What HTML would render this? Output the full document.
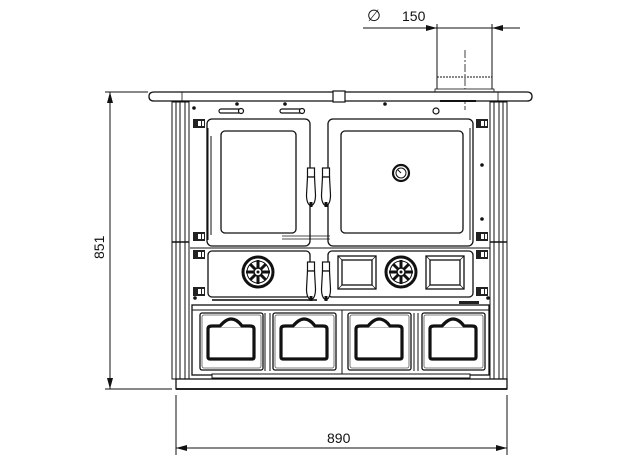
<!DOCTYPE html>
<html><head><meta charset="utf-8"><style>
html,body{margin:0;padding:0;background:#fff;}
svg{display:block;}
text{font-family:"Liberation Sans",sans-serif;fill:#111;}
</style></head><body>
<svg width="624" height="460" viewBox="0 0 624 460" xmlns="http://www.w3.org/2000/svg">
<defs>
<g id="knob">
  <circle r="15" fill="#fff" stroke="#111" stroke-width="3"/>
  <circle r="11" fill="none" stroke="#111" stroke-width="1"/>
  <g stroke="#111" stroke-width="3">
    <line x1="0" y1="-4" x2="0" y2="-12"/><line x1="0" y1="4" x2="0" y2="12"/>
    <line x1="-4" y1="0" x2="-12" y2="0"/><line x1="4" y1="0" x2="12" y2="0"/>
    <line x1="-3" y1="-3" x2="-8" y2="-8"/><line x1="3" y1="3" x2="8" y2="8"/>
    <line x1="3" y1="-3" x2="8" y2="-8"/><line x1="-3" y1="3" x2="-8" y2="8"/>
  </g>
  <circle r="4" fill="#fff" stroke="#111" stroke-width="1.5"/>
  <circle r="1.5" fill="#111"/>
</g>
<g id="hinge">
  <rect x="0" y="0" width="12" height="9" fill="#222"/>
  <rect x="5" y="2" width="3" height="5" fill="#fff"/>
  <rect x="9" y="2" width="2" height="5" fill="#fff"/>
</g>
<g id="drawer">
  <rect x="0" y="0" width="63" height="57" rx="2" fill="#fff" stroke="#111" stroke-width="1.3"/>
  <rect x="2" y="2" width="59" height="53" rx="2" fill="none" stroke="#555" stroke-width="0.8"/>
  <path d="M8,16 Q8,13 12,13 L20,13 Q26,6 31,6 Q37,6 42,13 L50,13 Q54,13 54,16 L54,44 Q54,46 52,46 L10,46 Q8,46 8,44 Z" fill="#fff" stroke="#111" stroke-width="3.2"/>
  <line x1="14" y1="14.5" x2="48" y2="14.5" stroke="#777" stroke-width="0.6"/>
</g>
<g id="handle">
  <rect x="-3.5" y="0" width="7" height="9" fill="#fff" stroke="#111" stroke-width="1.2"/>
  <path d="M-3.5,9 L-4.5,27 Q-4.5,36 0,38 Q4.5,36 4.5,27 L3.5,9 Z" fill="#fff" stroke="#111" stroke-width="1.2"/>
  <rect x="-1.5" y="34" width="3" height="5" fill="#111"/>
</g>
</defs>

<!-- dimension: diameter 150 -->
<text x="367" y="21" font-size="16">∅</text>
<text x="402" y="21" font-size="14">150</text>
<line x1="363" y1="28" x2="520" y2="28" stroke="#111" stroke-width="1"/>
<line x1="437" y1="24" x2="437" y2="92" stroke="#111" stroke-width="1"/>
<line x1="492" y1="24" x2="492" y2="92" stroke="#111" stroke-width="1"/>
<path d="M437,28 L426,25 L426,31 Z" fill="#111"/>
<path d="M492,28 L503,25 L503,31 Z" fill="#111"/>
<line x1="465" y1="50" x2="465" y2="110" stroke="#111" stroke-width="0.8" stroke-dasharray="8,2,2,2"/>
<line x1="437" y1="77" x2="492" y2="77" stroke="#111" stroke-width="1" stroke-dasharray="2,1"/>
<rect x="435" y="89" width="59" height="4" fill="#fff" stroke="#111" stroke-width="0.8"/>

<!-- height dimension -->
<line x1="105" y1="92" x2="148" y2="92" stroke="#111" stroke-width="1"/>
<line x1="105" y1="389" x2="172" y2="389" stroke="#111" stroke-width="1"/>
<line x1="110" y1="92" x2="110" y2="389" stroke="#111" stroke-width="1"/>
<path d="M110,92 L107,103 L113,103 Z" fill="#111"/>
<path d="M110,389 L107,378 L113,378 Z" fill="#111"/>
<text x="0" y="0" font-size="14" transform="translate(104,259) rotate(-90)">851</text>

<!-- width dimension -->
<line x1="176" y1="395" x2="176" y2="455" stroke="#111" stroke-width="1"/>
<line x1="507" y1="395" x2="507" y2="455" stroke="#111" stroke-width="1"/>
<line x1="176" y1="448" x2="507" y2="448" stroke="#111" stroke-width="1"/>
<path d="M176,448 L187,445 L187,451 Z" fill="#111"/>
<path d="M507,448 L496,445 L496,451 Z" fill="#111"/>
<text x="327" y="443" font-size="14">890</text>

<!-- top plate -->
<path d="M154,92 L527,92 Q532,92 532,96.5 Q532,101 527,101 L154,101 Q149,101 149,96.5 Q149,92 154,92 Z" fill="#fff" stroke="#111" stroke-width="1.3"/>
<line x1="182" y1="92" x2="182" y2="101" stroke="#111" stroke-width="0.8"/>
<line x1="498" y1="92" x2="498" y2="101" stroke="#111" stroke-width="0.8"/>
<rect x="333" y="91" width="12" height="11" fill="#fff" stroke="#111" stroke-width="1.2"/>
<rect x="440" y="100" width="36" height="2" fill="#111"/>

<!-- side columns -->
<g stroke="#111" stroke-width="1" fill="none">
  <rect x="172" y="102" width="17" height="277"/>
  <line x1="176" y1="102" x2="176" y2="379"/>
  <line x1="180" y1="102" x2="180" y2="379"/>
  <line x1="185" y1="102" x2="185" y2="379"/>
  <rect x="490" y="102" width="17" height="277"/>
  <line x1="494" y1="102" x2="494" y2="379"/>
  <line x1="499" y1="102" x2="499" y2="379"/>
  <line x1="503" y1="102" x2="503" y2="379"/>
</g>
<line x1="172" y1="242" x2="189" y2="242" stroke="#111" stroke-width="1.5"/>
<line x1="490" y1="242" x2="507" y2="242" stroke="#111" stroke-width="1.5"/>

<!-- top dots & sliders -->
<g fill="#111">
  <circle cx="194" cy="108" r="1.8"/><circle cx="237" cy="104" r="1.8"/><circle cx="285" cy="104" r="1.8"/>
  <circle cx="385" cy="104" r="1.8"/><circle cx="195" cy="298" r="1.8"/><circle cx="488" cy="298" r="1.8"/>
  <circle cx="482" cy="165" r="1.8"/><circle cx="482" cy="219" r="1.8"/>
</g>
<g stroke="#111" stroke-width="1.2" fill="#fff">
  <rect x="219" y="109" width="22" height="4" rx="2"/><circle cx="241" cy="111" r="2.5"/>
  <rect x="280" y="109" width="22" height="4" rx="2"/><circle cx="302" cy="111" r="2.5"/>
  <circle cx="436" cy="111" r="3"/>
</g>

<!-- upper doors -->
<g stroke="#111" stroke-width="1.3" fill="#fff">
  <rect x="207" y="119" width="103" height="127" rx="5"/>
  <rect x="221" y="131" width="75" height="102" rx="4"/>
  <rect x="328" y="119" width="145" height="127" rx="5"/>
  <rect x="341" y="131" width="122" height="102" rx="4"/>
</g>
<line x1="208" y1="128" x2="208" y2="240" stroke="#111" stroke-width="1"/>
<line x1="211" y1="136" x2="211" y2="235" stroke="#111" stroke-width="1"/>
<line x1="470" y1="128" x2="470" y2="240" stroke="#111" stroke-width="1"/>
<line x1="473" y1="128" x2="473" y2="240" stroke="#111" stroke-width="1"/>
<line x1="282" y1="236" x2="330" y2="236" stroke="#111" stroke-width="0.8"/>
<line x1="282" y1="239" x2="330" y2="239" stroke="#111" stroke-width="0.8"/>
<line x1="190" y1="248" x2="490" y2="248" stroke="#111" stroke-width="1"/>

<!-- thermometer -->
<circle cx="401" cy="173" r="8" fill="#fff" stroke="#111" stroke-width="2.2"/>
<circle cx="401" cy="173" r="5" fill="#fff" stroke="#111" stroke-width="1"/>
<line x1="401" y1="173" x2="398" y2="170" stroke="#111" stroke-width="1"/>

<!-- hinges -->
<use href="#hinge" x="193" y="119"/><use href="#hinge" x="193" y="232"/>
<use href="#hinge" x="193" y="250"/><use href="#hinge" x="193" y="287"/>
<use href="#hinge" x="476" y="119"/><use href="#hinge" x="476" y="232"/>
<use href="#hinge" x="476" y="250"/><use href="#hinge" x="476" y="287"/>

<!-- lower doors -->
<g stroke="#111" stroke-width="1.3" fill="#fff">
  <rect x="208" y="251" width="102" height="46" rx="4"/>
  <rect x="328" y="251" width="145" height="46" rx="4"/>
  <rect x="338" y="256" width="38" height="33"/>
  <rect x="342" y="260" width="30" height="25"/>
  <rect x="426" y="256" width="38" height="33"/>
  <rect x="430" y="260" width="30" height="25"/>
</g>
<g stroke="#111" stroke-width="0.7">
  <line x1="338" y1="256" x2="342" y2="260"/><line x1="376" y1="256" x2="372" y2="260"/>
  <line x1="338" y1="289" x2="342" y2="285"/><line x1="376" y1="289" x2="372" y2="285"/>
  <line x1="426" y1="256" x2="430" y2="260"/><line x1="464" y1="256" x2="460" y2="260"/>
  <line x1="426" y1="289" x2="430" y2="285"/><line x1="464" y1="289" x2="460" y2="285"/>
</g>
<use href="#knob" x="258" y="272"/>
<use href="#knob" x="401" y="272"/>
<rect x="212" y="299" width="105" height="2" fill="#444"/>
<rect x="459" y="301" width="20" height="3" fill="#222"/>

<!-- handles -->
<use href="#handle" x="311" y="168"/>
<use href="#handle" x="326" y="168"/>
<use href="#handle" x="311" y="262"/>
<use href="#handle" x="326" y="262"/>

<!-- drawer section -->
<rect x="192" y="305" width="297" height="70" fill="#fff" stroke="#111" stroke-width="1.3"/>
<rect x="192" y="305" width="297" height="5" fill="none" stroke="#111" stroke-width="1"/>
<line x1="265" y1="313" x2="265" y2="371" stroke="#111" stroke-width="1"/>
<line x1="270" y1="313" x2="270" y2="371" stroke="#111" stroke-width="1"/>
<line x1="342" y1="310" x2="342" y2="375" stroke="#111" stroke-width="1"/>
<line x1="414" y1="313" x2="414" y2="371" stroke="#111" stroke-width="1"/>
<line x1="418" y1="313" x2="418" y2="371" stroke="#111" stroke-width="1"/>
<use href="#drawer" x="200" y="313"/>
<use href="#drawer" x="273" y="313"/>
<use href="#drawer" x="348" y="313"/>
<use href="#drawer" x="422" y="313"/>
<rect x="212" y="374" width="258" height="4" fill="#fff" stroke="#111" stroke-width="1"/>

<!-- base -->
<rect x="176" y="379" width="331" height="10" fill="#fff" stroke="#111" stroke-width="1.3"/>
<line x1="176" y1="389" x2="507" y2="389" stroke="#111" stroke-width="1.8"/>
</svg>
</body></html>
